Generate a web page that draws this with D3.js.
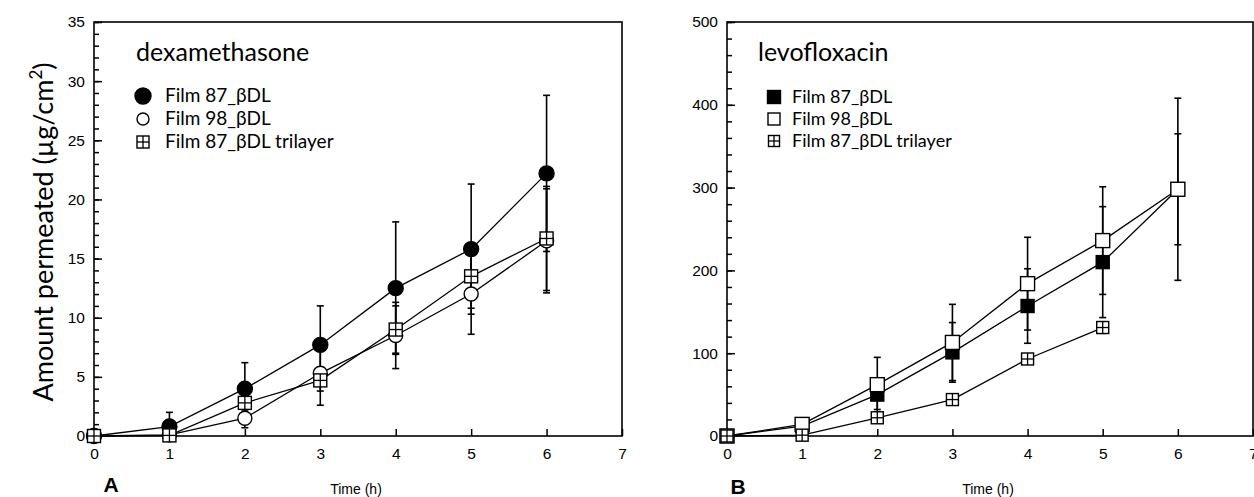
<!DOCTYPE html>
<html><head><meta charset="utf-8">
<script src="https://cdn.jsdelivr.net/npm/d3@7"></script>
<style>body{margin:0;background:#fff} svg{display:block}</style>
</head><body><svg id="c" width="1254" height="497"></svg>
<script>
// ---------- data ----------
const times = [0, 1, 2, 3, 4, 5, 6];
const seriesNames = ["Film 87_βDL", "Film 98_βDL", "Film 87_βDL trilayer"];
const xTicks = [0, 1, 2, 3, 4, 5, 6, 7];

// dexamethasone (µg/cm²)
const dexFilm87    = [0, 0.8, 4.0, 7.7, 12.5, 15.8, 22.2];
const dexFilm87Err = [0, 1.2, 2.2, 3.3, 5.6, 5.5, 6.6];
const dexFilm98    = [0, 0.1, 1.5, 5.3, 8.5, 12.0, 16.5];
const dexFilm98Err = [0, 0.3, 0.8, 2.7, 2.8, 3.4, 4.4];
const dexTri       = [0, 0.05, 2.8, 4.7, 9.0, 13.5, 16.7];
const dexTriErr    = [0, 0.2, 0.6, 0.9, 2.0, 2.7, 4.4];
const dexYTicks = [0, 5, 10, 15, 20, 25, 30, 35];

// levofloxacin (µg/cm²)
const levoFilm87    = [0, 12, 50, 101, 157, 210, 298];
const levoFilm87Err = [0, 4, 18, 36, 45, 67, 67];
const levoFilm98    = [0, 14, 62, 113, 184, 236, 298];
const levoFilm98Err = [0, 5, 33, 46, 56, 65, 110];
const levoTri       = [0, 1, 22, 44, 93, 131];
const levoTriErr    = [0, 1, 3, 4, 5, 7];
const levoYTicks = [0, 100, 200, 300, 400, 500];

// ---------- drawing ----------
const svg = d3.select("#c");
const SANS = "Lato, 'Open Sans', sans-serif";
const ARIAL = "'Liberation Sans', Arial, sans-serif";

function series(vals, errs) {
  return vals.map((v, i) => ({ t: times[i], v: v, e: errs[i] }));
}

function marker(g, type, x, y, size) {
  const h = size / 2;
  if (type === "circleFilled" || type === "circleOpen") {
    g.append("circle").attr("cx", x).attr("cy", y).attr("r", h)
      .attr("fill", type === "circleFilled" ? "#000" : "#fff")
      .attr("stroke", "#000").attr("stroke-width", 1.4);
  } else {
    g.append("rect").attr("x", x - h).attr("y", y - h).attr("width", size).attr("height", size)
      .attr("fill", type === "squareFilled" ? "#000" : "#fff")
      .attr("stroke", "#000").attr("stroke-width", 1.4);
    if (type === "squarePlus") {
      g.append("line").attr("x1", x - h).attr("x2", x + h).attr("y1", y).attr("y2", y)
        .attr("stroke", "#000").attr("stroke-width", 1.3);
      g.append("line").attr("x1", x).attr("x2", x).attr("y1", y - h).attr("y2", y + h)
        .attr("stroke", "#000").attr("stroke-width", 1.3);
    }
  }
}

function panel(opt) {
  const x = d3.scaleLinear().domain([0, 7]).range([opt.x0, opt.x1]);
  const y = d3.scaleLinear().domain([0, opt.ymax]).range([436, 22]);
  const g = svg.append("g");
  const fmt = d3.format("d");

  // minor y ticks
  g.append("g").attr("transform", `translate(${opt.x0},0)`)
    .call(d3.axisLeft(y).tickValues(d3.range(0, opt.ymax + 0.001, opt.minor)).tickSize(-5).tickFormat(""))
    .call(a => a.select(".domain").remove())
    .call(a => a.selectAll("line").attr("stroke-width", 1.5));
  // major y ticks
  g.append("g").attr("transform", `translate(${opt.x0},0)`)
    .call(d3.axisLeft(y).tickValues(opt.yTicks).tickSize(-8).tickPadding(9).tickFormat(fmt))
    .call(a => a.select(".domain").remove())
    .call(a => a.selectAll("line").attr("stroke-width", 1.5))
    .call(a => a.selectAll("text").attr("font-family", ARIAL).attr("font-size", 15.5).attr("fill", "#000"));
  // x ticks
  g.append("g").attr("transform", `translate(0,436)`)
    .call(d3.axisBottom(x).tickValues(xTicks).tickSize(-7).tickPadding(12).tickFormat(fmt))
    .call(a => a.select(".domain").remove())
    .call(a => a.selectAll("line").attr("stroke-width", 1.5))
    .call(a => a.selectAll("text").attr("font-family", ARIAL).attr("font-size", 15.5).attr("fill", "#000"));
  // frame
  g.append("rect").attr("x", opt.x0).attr("y", 22).attr("width", opt.x1 - opt.x0).attr("height", 414)
    .attr("fill", "none").attr("stroke", "#000").attr("stroke-width", 1.6);

  const data = opt.series.map(s => series(s.vals, s.errs));
  // error bars
  data.forEach(d => {
    d.filter(p => p.e > 0).forEach(p => {
      const cx = x(p.t), yt = y(p.v + p.e), yb = y(p.v - p.e);
      g.append("line").attr("x1", cx).attr("x2", cx).attr("y1", yt).attr("y2", yb)
        .attr("stroke", "#000").attr("stroke-width", 1.6);
      [yt, yb].forEach(yy => g.append("line").attr("x1", cx - 3.5).attr("x2", cx + 3.5)
        .attr("y1", yy).attr("y2", yy).attr("stroke", "#000").attr("stroke-width", 1.6));
    });
  });
  // lines
  const line = d3.line().x(p => x(p.t)).y(p => y(p.v));
  data.forEach(d => g.append("path").attr("d", line(d)).attr("fill", "none")
    .attr("stroke", "#000").attr("stroke-width", 1.3));
  // markers
  data.forEach((d, i) => d.forEach(p =>
    marker(g, opt.series[i].type, x(p.t), y(p.v), opt.series[i].size)));

  // title and legend
  g.append("text").attr("x", opt.titleX).attr("y", 61).text(opt.title)
    .attr("font-family", SANS).attr("font-size", 25).attr("fill", "#000");
  opt.series.forEach((s, i) => {
    const ly = opt.legY[i];
    marker(g, s.type, opt.legMX, ly, s.legSize);
    g.append("text").attr("x", opt.legTX).attr("y", ly + 6).text(seriesNames[i])
      .attr("font-family", SANS).attr("font-size", opt.legFont).attr("fill", "#000");
  });

  // x axis title & panel letter
  g.append("text").attr("x", (opt.x0 + opt.x1) / 2 - 2).attr("y", 494).attr("text-anchor", "middle")
    .text("Time (h)").attr("font-family", ARIAL).attr("font-size", 14).attr("fill", "#000");
  g.append("text").attr("x", opt.letterX).attr("y", opt.letterY).attr("text-anchor", "middle")
    .text(opt.letter).attr("font-family", ARIAL).attr("font-weight", "bold").attr("font-size", 21).attr("fill", "#000");
}

panel({
  x0: 94, x1: 622, ymax: 35, minor: 1, yTicks: dexYTicks,
  title: "dexamethasone", titleX: 136,
  series: [
    { vals: dexFilm87, errs: dexFilm87Err, type: "circleFilled", size: 15, legSize: 16 },
    { vals: dexFilm98, errs: dexFilm98Err, type: "circleOpen", size: 14, legSize: 12 },
    { vals: dexTri, errs: dexTriErr, type: "squarePlus", size: 13, legSize: 12 }
  ],
  legMX: 143, legTX: 165, legY: [96, 119, 142], legFont: 19,
  letter: "A", letterX: 111, letterY: 492
});

panel({
  x0: 727, x1: 1253, ymax: 500, minor: 20, yTicks: levoYTicks,
  title: "levofloxacin", titleX: 758,
  series: [
    { vals: levoFilm87, errs: levoFilm87Err, type: "squareFilled", size: 13, legSize: 13 },
    { vals: levoFilm98, errs: levoFilm98Err, type: "squareOpen", size: 14, legSize: 12 },
    { vals: levoTri, errs: levoTriErr, type: "squarePlus", size: 12, legSize: 11 }
  ],
  legMX: 774, legTX: 792, legY: [97, 119, 141], legFont: 18,
  letter: "B", letterX: 738, letterY: 494
});

// y axis label
svg.append("text").attr("transform", "translate(53,232) rotate(-90)").attr("text-anchor", "middle")
  .attr("font-family", SANS).attr("font-size", 27).attr("fill", "#000")
  .call(t => {
    t.append("tspan").text("Amount permeated (µg/cm");
    t.append("tspan").text("2").attr("font-size", 17).attr("dy", -11);
    t.append("tspan").text(")").attr("dy", 11);
  });
</script>
</body></html>
